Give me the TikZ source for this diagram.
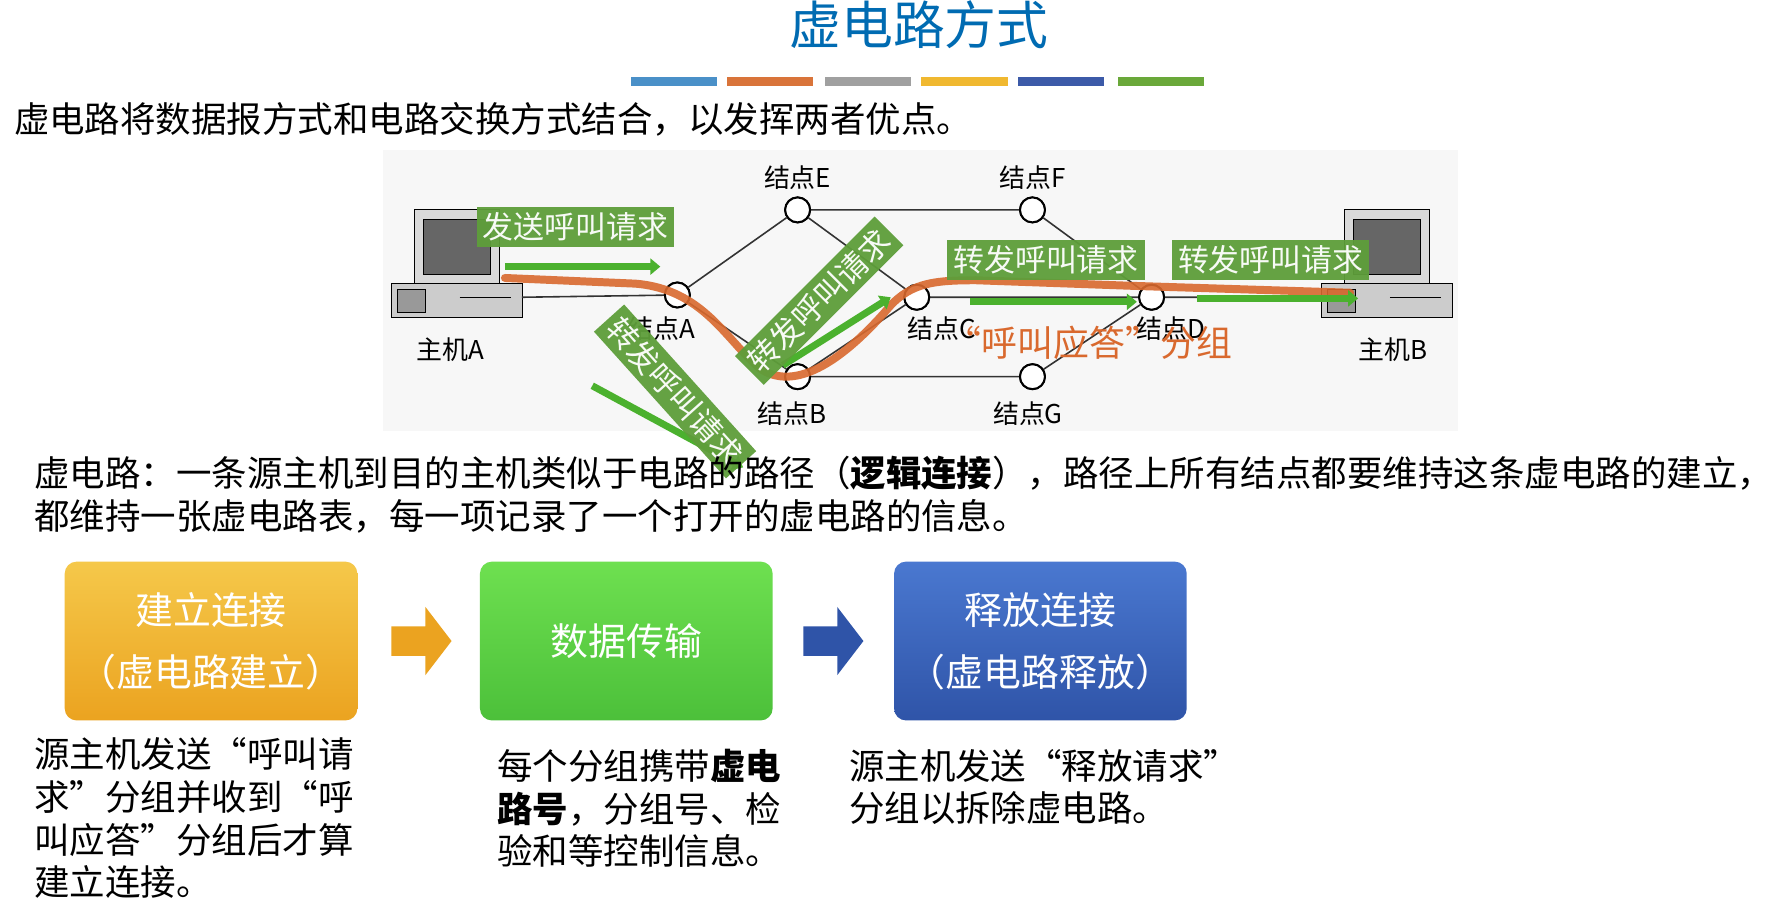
\documentclass[tikz,border=0pt]{standalone}
\usepackage{fontspec}
\setmainfont{Noto Sans CJK SC}
\usetikzlibrary{arrows.meta}
\newcommand{\fs}[1]{\fontsize{#1}{#1}\selectfont}
\definecolor{gbox}{HTML}{5E9E3A}
\definecolor{org}{HTML}{D9692E}
\definecolor{y1}{HTML}{F5C84A}\definecolor{y2}{HTML}{EBA320}
\definecolor{g1}{HTML}{6EE050}\definecolor{g2}{HTML}{4CC03A}
\definecolor{b1}{HTML}{4A78D0}\definecolor{b2}{HTML}{2F54A8}
\tikzset{
 nd/.style={circle,draw=black,fill=white,line width=1pt,minimum size=0.44cm,inner sep=0},
 lb/.style={font=\fs{13}},
 gl/.style={fill=gbox,text=white,font=\fs{15.5},inner sep=3pt,opacity=0.95},
 ga/.style={draw=gbox!80!green,line width=3.5pt,-{Triangle[length=5pt,width=8pt]}},
 edge/.style={draw=black!80,line width=0.8pt},
 big/.style={rounded corners=6pt,minimum width=5.16cm,minimum height=2.8cm,text=white,font=\fs{19},align=center},
 body/.style={font=\fs{17.8},anchor=north west,align=left,inner sep=0},
 para/.style={body,font=\fs{17.8}\linespread{1.2}\selectfont}
}
\begin{document}
\begin{tikzpicture}[x=0.02cm,y=-0.02cm]
\useasboundingbox[fill=white] (0,0) rectangle (1568,807);
\node[text=blue!40!cyan!70!black,font=\fs{26}] (title) at (810,22) {虚电路方式};
\foreach \a/\c in {556/4A90C8,641/D9743A,727/A0A0A0,812/F0B830,897/3C5AA8,985/6AA83A}
 {\definecolor{barc}{HTML}{\c}\fill[barc] (\a,68) rectangle ++(76,8);}
\node[body] (intro) at (12,90) {虚电路将数据报方式和电路交换方式结合，以发挥两者优点。};
\fill[black!3] (338,132) rectangle (1285,380);
% computers
\foreach \x in {345,1165}{
 \begin{scope}[shift={(\x,0)}]
  \draw[fill=black!15] (20,185) rectangle (95,250);
  \draw[fill=black!60] (28,193) rectangle (87,242);
  \draw[fill=black!20] (0,250) rectangle (115,280);
  \draw (60,262) -- (105,262);
  \draw[fill=black!40] (5,255) rectangle (30,275);
 \end{scope}}
\coordinate (hA) at (460,262); \coordinate (hB) at (1165,262);
\node[nd] (E) at (703,185) {};
\node[nd] (F) at (910,185) {};
\node[nd] (A) at (597,260) {};
\node[nd] (C) at (808,262) {};
\node[nd] (D) at (1015,262) {};
\node[nd] (B) at (703,332) {};
\node[nd] (G) at (910,332) {};
\draw[edge] (hA) -- (A) (A) -- (E) (A) -- (B) (E) -- (F) (E) -- (C) (F) -- (D)
 (C) -- (D) (B) -- (G) (G) -- (D) (B) -- (C) (D) -- (hB);
\foreach \n in {E,F,A,C,D,B,G}{\node[nd] at (\n) {};}
\node[lb] (lE) at (703,157) {结点E};
\node[lb] (lF) at (910,157) {结点F};
\node[lb] (lA) at (583,290) {结点A};
\node[lb] (lC) at (830,290) {结点C};
\node[lb] (lD) at (1032,290) {结点D};
\node[lb] (lB) at (698,365) {结点B};
\node[lb] (lG) at (906,365) {结点G};
\node[lb] (lhA) at (397,308) {主机A};
\node[lb] (lhB) at (1228,308) {主机B};
% orange path
\draw[org,line width=4pt,opacity=0.9,line cap=round] (445,245) -- (560,250) .. controls (620,255) and (640,300) .. (670,325)
 .. controls (700,345) and (740,320) .. (780,275) .. controls (800,250) and (820,247) .. (860,247) -- (1000,252) -- (1190,258);
% green arrows
\coordinate (a1s) at (445,235); \coordinate (a1e) at (582,235);
\draw[ga] (a1s) -- (a1e);
\coordinate (a2s) at (522,340); \coordinate (a2e) at (655,412);
\draw[ga] (a2s) -- (a2e);
\coordinate (a3s) at (690,322); \coordinate (a3e) at (785,262);
\draw[ga] (a3s) -- (a3e);
\coordinate (a4s) at (855,266); \coordinate (a4e) at (1002,266);
\draw[ga] (a4s) -- (a4e);
\coordinate (a5s) at (1055,263); \coordinate (a5e) at (1197,263);
\draw[ga] (a5s) -- (a5e);
\node[gl] (g1) at (507,200) {发送呼叫请求};
\node[gl,rotate=-48] (g2) at (595,345) {转发呼叫请求};
\node[gl,rotate=45] (g3) at (722,265) {转发呼叫请求};
\node[gl] (g4) at (922,229) {转发呼叫请求};
\node[gl] (g5) at (1120,229) {转发呼叫请求};
\node[text=org,font=\fs{18}] (ans) at (960,302) {“呼叫应答”分组};
\node[body] (p1) at (30,402) {虚电路：一条源主机到目的主机类似于电路的路径（\textbf{逻辑连接}），路径上所有结点都要维持这条虚电路的建立，};
\node[body] (p2) at (30,440) {都维持一张虚电路表，每一项记录了一个打开的虚电路的信息。};
\node[big,top color=y1,bottom color=y2] (s1) at (186,565) {建立连接\\[12pt]（虚电路建立）};
\node[big,top color=g1,bottom color=g2] (s2) at (552,565) {数据传输};
\node[big,top color=b1,bottom color=b2] (s3) at (917,565) {释放连接\\[12pt]（虚电路释放）};
\coordinate (ar1) at (345,565); \coordinate (ar2) at (708,565);
\fill[y2] (ar1) ++(0,-13) -- ++(30,0) -- ++(0,-17) -- ++(23,30) -- ++(-23,30) -- ++(0,-17) -- ++(-30,0) -- cycle;
\fill[b2] (ar2) ++(0,-13) -- ++(30,0) -- ++(0,-17) -- ++(23,30) -- ++(-23,30) -- ++(0,-17) -- ++(-30,0) -- cycle;
\node[para] (t1) at (30,650) {源主机发送“呼叫请\\求”分组并收到“呼\\叫应答”分组后才算\\建立连接。};
\node[para] (t2) at (438,660) {每个分组携带\textbf{虚电}\\\textbf{路号}，分组号、检\\验和等控制信息。};
\node[para] (t3) at (748,660) {源主机发送“释放请求”\\分组以拆除虚电路。};
\end{tikzpicture}
\end{document}
